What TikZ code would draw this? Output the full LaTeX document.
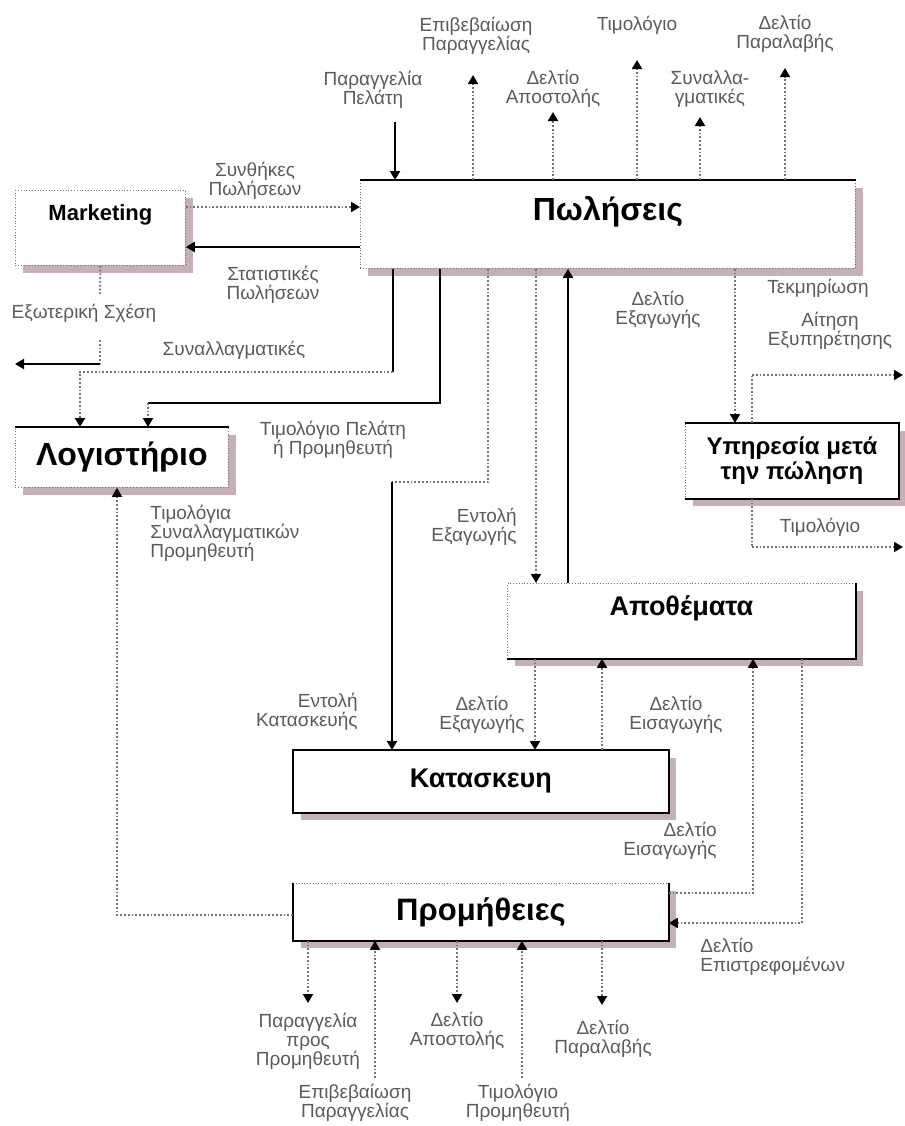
\documentclass[tikz,border=0pt]{standalone}
\usepackage{fontspec}
\setmainfont{Liberation Sans}
\usepackage{tikz}
\usetikzlibrary{arrows.meta,shadows}
\definecolor{shadowpink}{RGB}{196,176,182}
\definecolor{labelgray}{RGB}{95,88,92}
\definecolor{dotgray}{RGB}{120,112,116}

\begin{document}
\begin{tikzpicture}[x=0.5pt,y=-0.5pt]
	\tikzstyle{every node}+=[inner sep=0pt]
	\tikzstyle{box}=[draw=dotgray,densely dotted,fill=white,anchor=north west,inner sep=2pt,
		drop shadow={shadow xshift=4pt,shadow yshift=-4pt,fill=shadowpink,opacity=1}]
	\tikzstyle{lbl}=[text=labelgray,align=center,font=\fontsize{9.5}{9.5}\selectfont]
	\tikzstyle{boxrim}=[black,line width=1pt]
	\tikzstyle{solidline}=[black,line width=1pt]
	\tikzstyle{dotline}=[dotgray,line width=0.9pt,densely dotted]
	\tikzstyle{solidflow}=[solidline,-{Triangle[width=5pt,length=4.5pt]}]
	\tikzstyle{dotflow}=[dotline,-{Triangle[width=5pt,length=4.5pt,color=black]}]
	\useasboundingbox (0,0) rectangle (905,1126);

	\node[box,minimum width=85pt,minimum height=37.5pt,text depth=15pt,font=\bfseries\fontsize{11}{11}\selectfont] (mkt) at (15,190) {Marketing};
	\node[box,minimum width=247.5pt,minimum height=44pt,text depth=16pt,font=\bfseries\fontsize{16}{16}\selectfont] (sales) at (360,180) {Πωλήσεις};
	\node[box,minimum width=106.5pt,minimum height=30pt,font=\bfseries\fontsize{16}{16}\selectfont] (acc) at (15,427) {Λογιστήριο};
	\node[box,minimum width=106.5pt,minimum height=37.5pt,align=center,font=\bfseries\fontsize{12}{11}\selectfont] (svc) at (685,423) {Υπηρεσία μετά\\την πώληση};
	\node[box,minimum width=174pt,minimum height=37.5pt,text depth=15pt,font=\bfseries\fontsize{13.5}{13.5}\selectfont] (inv) at (507,583) {Αποθέματα};
	\node[box,minimum width=187.5pt,minimum height=31pt,font=\bfseries\fontsize{13.5}{13.5}\selectfont] (man) at (293,750) {Κατασκευη};
	\node[box,minimum width=187.5pt,minimum height=28.5pt,font=\bfseries\fontsize{15.5}{15.5}\selectfont] (pro) at (293,883) {Προμήθειες};

	\draw[boxrim] (sales.north west) -- (sales.north east);
	\draw[boxrim] (acc.north west) -- (acc.north east);
	\draw[boxrim] (svc.north west) -- (svc.north east) -- (svc.south east) -- (svc.south west);
	\draw[boxrim] (inv.north east) -- (inv.south east) -- (inv.south west);
	\draw[boxrim] (man.north west) rectangle (man.south east);
	\draw[boxrim] (pro.north west) -- (pro.south west) -- (pro.south east) -- (pro.north east);

	\node[lbl] (lPelatis) at (373,90) {Παραγγελία\\Πελάτη};
	\node[lbl] (lEpivS) at (476,36) {Επιβεβαίωση\\Παραγγελίας};
	\node[lbl] (lApostS) at (553,89) {Δελτίο\\Αποστολής};
	\node[lbl] (lTimolS) at (637,25) {Τιμολόγιο};
	\node[lbl] (lSynalS) at (710,89) {Συναλλα-\\γματικές};
	\node[lbl] (lParalS) at (785,34) {Δελτίο\\Παραλαβής};
	\node[lbl] (lSynth) at (255,181) {Συνθήκες\\Πωλήσεων};
	\node[lbl] (lStat) at (273,285) {Στατιστικές\\Πωλήσεων};
	\node[lbl] (lExt) at (84,313) {Εξωτερική Σχέση};
	\node[lbl] (lSynalA) at (234,350) {Συναλλαγματικές};
	\node[lbl] (lTimPel) at (333,440) {Τιμολόγιο Πελάτη\\ή Προμηθευτή};
	\node[lbl,align=left,anchor=west] (lTimSyn) at (150,533) {Τιμολόγια\\Συναλλαγματικών\\Προμηθευτή};
	\node[lbl] (lExagS) at (658,310) {Δελτίο\\Εξαγωγής};
	\node[lbl,align=right,anchor=east] (lEntExag) at (517,527) {Εντολή\\Εξαγωγής};
	\node[lbl] (lTekm) at (818,288) {Τεκμηρίωση};
	\node[lbl] (lAit) at (830,331) {Αίτηση\\Εξυπηρέτησης};
	\node[lbl] (lTimSvc) at (820,527) {Τιμολόγιο};
	\node[lbl,align=right,anchor=east] (lEntKat) at (358,712) {Εντολή\\Κατασκευής};
	\node[lbl] (lExagM) at (482,715) {Δελτίο\\Εξαγωγής};
	\node[lbl] (lEisM) at (676,715) {Δελτίο\\Εισαγωγής};
	\node[lbl,align=right,anchor=east] (lEisP) at (717,841) {Δελτίο\\Εισαγωγής};
	\node[lbl,align=left,anchor=west] (lEpistr) at (700,957) {Δελτίο\\Επιστρεφομένων};
	\node[lbl] (lParProm) at (308,1041) {Παραγγελία\\προς\\Προμηθευτή};
	\node[lbl] (lEpivP) at (355,1103) {Επιβεβαίωση\\Παραγγελίας};
	\node[lbl] (lApostP) at (457,1031) {Δελτίο\\Αποστολής};
	\node[lbl] (lTimProm) at (518,1103) {Τιμολόγιο\\Προμηθευτή};
	\node[lbl] (lParalP) at (603,1039) {Δελτίο\\Παραλαβής};

	\coordinate (tPel) at (395,122);
	\coordinate (tEpiv) at (473,75);
	\coordinate (tApost) at (553,112);
	\coordinate (tTimol) at (637,60);
	\coordinate (tSynal) at (700,117);
	\coordinate (tParal) at (785,68);
	\coordinate (ySyn) at (270,207);
	\coordinate (yStat) at (270,247);
	\coordinate (extA) at (100,295);
	\coordinate (extB) at (100,340);
	\coordinate (extC) at (100,364);
	\coordinate (extD) at (15,364);
	\coordinate (sA) at (393,372);
	\coordinate (aA) at (80,372);
	\coordinate (sB) at (440,403);
	\coordinate (aB) at (148,403);
	\coordinate (kA) at (488,482);
	\coordinate (kB) at (392,482);
	\coordinate (xA) at (536,420);
	\coordinate (xB) at (568,420);
	\coordinate (vA) at (735,350);
	\coordinate (vB) at (752,375);
	\coordinate (vC) at (903,375);
	\coordinate (vD) at (752,547);
	\coordinate (vE) at (903,547);
	\coordinate (mA) at (535,700);
	\coordinate (mB) at (602,700);
	\coordinate (pA) at (753,893);
	\coordinate (pB) at (802,923);
	\coordinate (qA) at (117,915);
	\coordinate (bA) at (308,1003);
	\coordinate (bB) at (375,1078);
	\coordinate (bC) at (457,1003);
	\coordinate (bD) at (522,1078);
	\coordinate (bE) at (602,1005);

	\draw[solidflow] (tPel) -- (tPel |- sales.north);
	\draw[dotflow] (tEpiv |- sales.north) -- (tEpiv);
	\draw[dotflow] (tApost |- sales.north) -- (tApost);
	\draw[dotflow] (tTimol |- sales.north) -- (tTimol);
	\draw[dotflow] (tSynal |- sales.north) -- (tSynal);
	\draw[dotflow] (tParal |- sales.north) -- (tParal);

	\draw[dotflow] (mkt.east |- ySyn) -- (sales.west |- ySyn);
	\draw[solidflow] (sales.west |- yStat) -- (mkt.east |- yStat);
	\draw[dotline] (mkt.south) -- (extA);
	\draw[dotline] (extB) -- (extC);
	\draw[solidflow] (extC) -- (extD);

	\draw[solidline] (sales.south -| sA) -- (sA);
	\draw[dotflow] (sA) -- (aA) -- (acc.north -| aA);
	\draw[solidline] (sales.south -| sB) -- (sB) -- (aB);
	\draw[dotflow] (aB) -- (acc.north -| aB);
	\draw[dotline] (sales.south -| kA) -- (kA) -- (kB);
	\draw[solidflow] (kB) -- (man.north -| kB);
	\draw[dotflow] (sales.south -| xA) -- (inv.north -| xA);
	\draw[solidflow] (inv.north -| xB) -- (sales.south -| xB);
	\draw[dotflow] (sales.south -| vA) -- (svc.north -| vA);
	\draw[dotline] (svc.north -| vB) -- (vB);
	\draw[dotflow] (vB) -- (vC);
	\draw[dotline] (svc.south -| vD) -- (vD);
	\draw[dotflow] (vD) -- (vE);

	\draw[dotflow] (inv.south -| mA) -- (man.north -| mA);
	\draw[dotflow] (man.north -| mB) -- (inv.south -| mB);
	\draw[dotflow] (pro.east |- pA) -- (pA) -- (inv.south -| pA);
	\draw[dotflow] (inv.south -| pB) -- (pB) -- (pro.east |- pB);
	\draw[dotflow] (pro.west |- qA) -- (qA) -- (acc.south -| qA);

	\draw[dotflow] (pro.south -| bA) -- (bA);
	\draw[dotflow] (bB) -- (pro.south -| bB);
	\draw[dotflow] (pro.south -| bC) -- (bC);
	\draw[dotflow] (bD) -- (pro.south -| bD);
	\draw[dotflow] (pro.south -| bE) -- (bE);
\end{tikzpicture}
\end{document}
